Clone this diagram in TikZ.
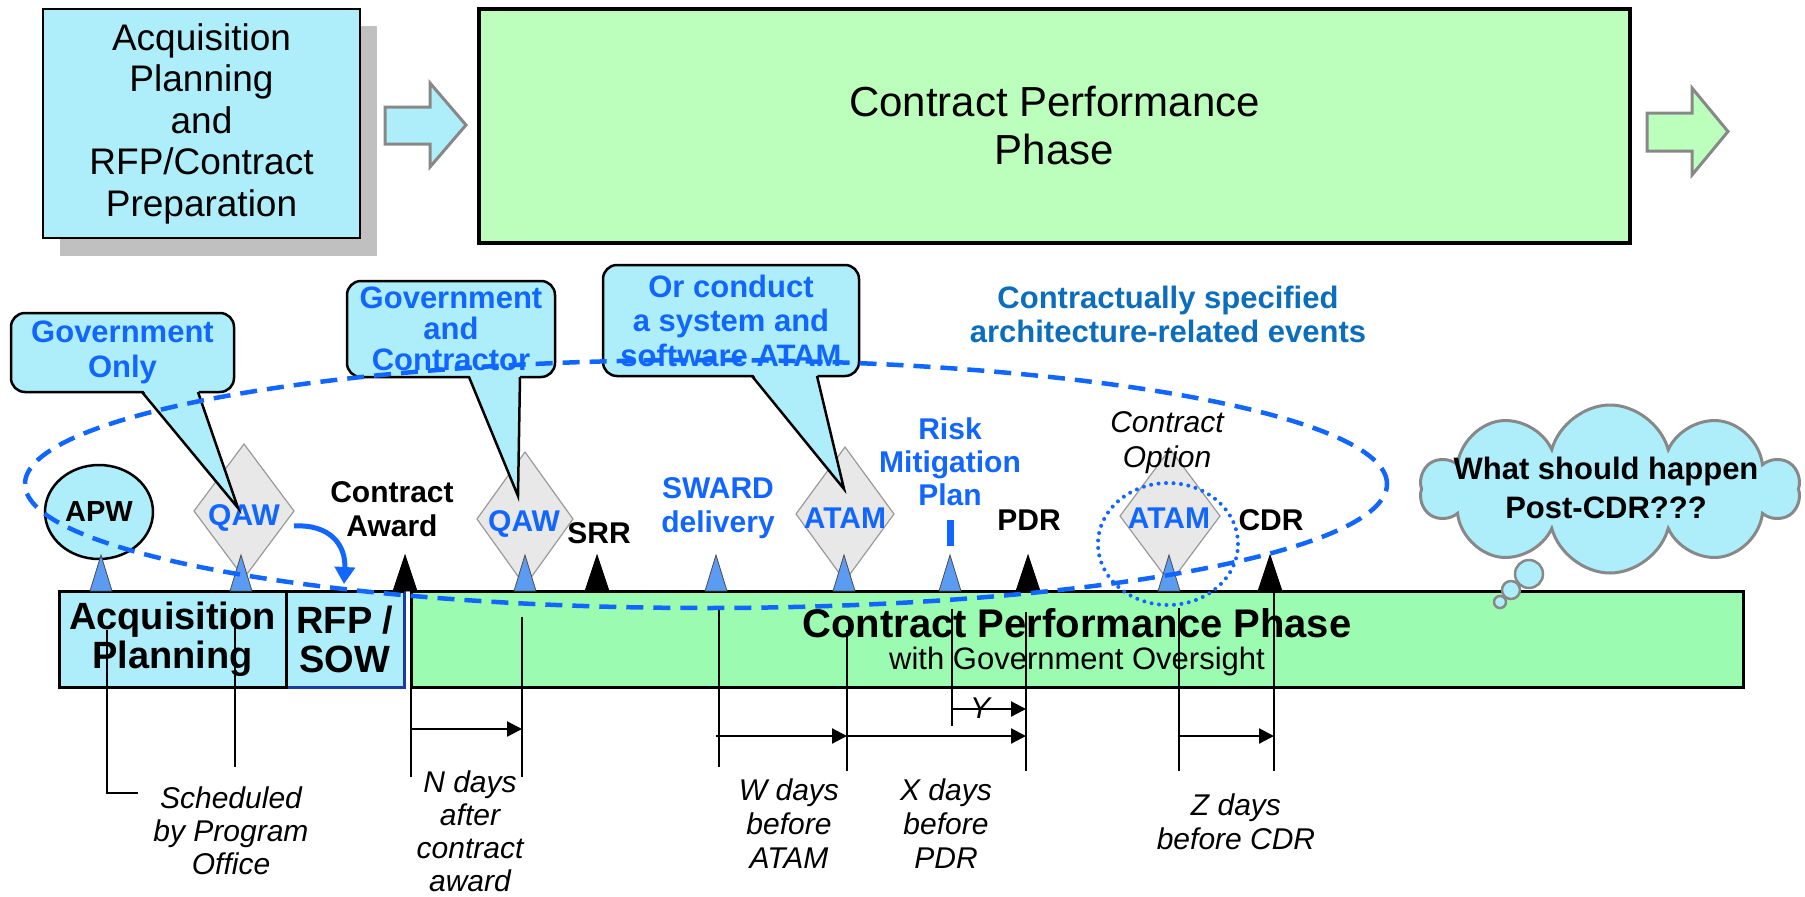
\documentclass[tikz,border=0pt]{standalone}
\usepackage{fontspec}
\setmainfont{Liberation Sans}
\usetikzlibrary{shapes.geometric,shapes.symbols,arrows.meta}
\definecolor{tblue}{HTML}{1166FF}
\definecolor{cyanfill}{HTML}{AEEEFA}
\definecolor{topgreen}{HTML}{BCFFBC}
\definecolor{bargreen}{HTML}{9BFBB0}
\definecolor{dmdfill}{HTML}{E8E8E8}
\definecolor{dmdline}{HTML}{9A9A9A}
\definecolor{triblue}{HTML}{5B9CF2}
\definecolor{ctblue}{HTML}{0B6DBD}
\definecolor{rfpblue}{HTML}{1B3C9C}
\definecolor{arrgray}{HTML}{888888}
\definecolor{shadowgray}{HTML}{C0C0C0}
\newcommand\fnt[2]{\fontsize{#1}{#2}\selectfont}
\begin{document}
\begin{tikzpicture}[x=1pt,y=-1pt,
  every node/.style={inner sep=0pt,outer sep=0pt,align=center},
  barbox/.style={draw=black,line width=3pt,minimum height=96pt,font=\fnt{38}{39}\bfseries},
  ev/.style={font=\fnt{30}{34}\bfseries},
  evb/.style={ev,text=tblue},
  note/.style={font=\fnt{30}{33}\itshape},
  ann/.style={line width=1.8pt},
  dimarr/.style={line width=2.2pt,-{Triangle[length=15pt,width=15pt]}},
  dmd/.style={diamond,draw=dmdline,fill=dmdfill,line width=1.2pt,minimum height=134pt},
  callbox/.style={draw=black,line width=2.5pt,fill=cyanfill,rounded corners=14pt,font=\fnt{31}{35}\bfseries,text=tblue},
  callline/.style={draw=black,line width=2.5pt,line join=miter},
  blockarrow/.style={draw=arrgray,line width=3pt,line join=miter},
  bub/.style={draw=arrgray,line width=2.5pt,fill=cyanfill}
]
\useasboundingbox (0,0) rectangle (1805,897);

% ---------- top row ----------
\fill[shadowgray] (60,26) rectangle (377,256);
\node[draw=black,line width=2.5pt,fill=cyanfill,minimum width=317pt,minimum height=229pt,font=\fnt{37}{41.5}] (aptop) at (201.5,123.5)
  {Acquisition\\Planning\\and\\RFP/Contract\\Preparation};
\draw[blockarrow,fill=cyanfill] (385,107) -- (430,107) -- (430,83) -- (466,125) -- (430,167) -- (430,144) -- (385,144) -- cycle;
\node[draw=black,line width=4pt,fill=topgreen,minimum width=1151pt,minimum height=234pt,font=\fnt{42}{48}] (cptop) at (1054.5,126)
  {Contract Performance\\Phase};
\draw[blockarrow,fill=topgreen] (1647,113) -- (1692,113) -- (1692,88) -- (1728,131.5) -- (1692,175) -- (1692,151) -- (1647,151) -- cycle;

% ---------- timeline bar ----------
\node[barbox,draw=rfpblue,fill=cyanfill,minimum width=118pt] (rfp) at (345,639) {RFP /\\SOW};
\node[barbox,fill=cyanfill,minimum width=227pt] (acq) at (172.5,639) {Acquisition\\Planning};
\draw[line width=3pt] (acq.north east) -- (rfp.north east);
\node[barbox,fill=bargreen,minimum width=1332pt] (cpp) at (1077,639) {};
\node[font=\fnt{40}{44}\bfseries] (cpptitle) at (1077,623) {Contract Performance Phase};
\node[font=\fnt{31}{34}] (cppsub) at (1077,661) {with Government Oversight};

% ---------- annotation lines ----------
\draw[ann] (107,630) -- (107,793) -- (138,793);
\draw[ann] (235,608) -- (235,767);
\draw[ann] (411,591) -- (411,777);
\draw[ann] (522,617) -- (522,777);
\draw[ann] (719,608) -- (719,767);
\draw[ann] (847,630) -- (847,771);
\draw[ann] (952,609) -- (952,726);
\draw[ann] (1026,612) -- (1026,771);
\draw[ann] (1179,608) -- (1179,771);
\draw[ann] (1274,593) -- (1274,771);
\draw[dimarr] (411,729) -- (522,729);
\draw[dimarr] (716,736) -- (847,736);
\draw[dimarr] (847,736) -- (1026,736);
\draw[dimarr] (952,709) -- (1026,709);
\draw[dimarr] (1179,736) -- (1274,736);

\node[note] (sched) at (231,831) {Scheduled\\by Program\\Office};
\node[note,font=\fnt{30}{33}\itshape] (ndays) at (470,831) {N days\\after\\contract\\award};
\node[note,font=\fnt{30}{34}\itshape] (wdays) at (789,824) {W days\\before\\ATAM};
\node[note,font=\fnt{30}{34}\itshape] (xdays) at (946,824) {X days\\before\\PDR};
\node[note,font=\fnt{30}{34}\itshape] (zdays) at (1236,822) {Z days\\before CDR};
\node[note] (ylbl) at (980,708) {Y};

% ---------- events ----------
\node[draw=black,line width=2.5pt,fill=cyanfill,ellipse,minimum width=108pt,minimum height=94pt,font=\fnt{29}{33}\bfseries] (apw) at (99,512) {APW};
\node[dmd,minimum width=100pt] (qaw1) at (244,511) {};
\node[dmd,minimum width=96pt] (qaw2) at (525,519) {};
\node[dmd,minimum width=98pt] (atam1) at (845,514) {};
\node[dmd,minimum width=100pt] (atam2) at (1170,516) {};
\node[evb] (qaw1l) at (244,518) {QAW};
\node[evb] (qaw2l) at (524,524) {QAW};
\node[evb] (atam1l) at (845,518) {ATAM};
\node[evb] (atam2l) at (1169,518) {ATAM};

\node[ev] (caw) at (392,509) {Contract\\Award};
\node[ev] (srr) at (599,533) {SRR};
\node[evb] (sward) at (718,508) {SWARD\\delivery};
\node[evb,font=\fnt{30}{33}\bfseries] (risk) at (950,462) {Risk\\Mitigation\\Plan};
\draw[tblue,line width=7pt] (950,520) -- (950,546);
\node[ev] (pdr) at (1029,520) {PDR};
\node[note,font=\fnt{30}{35}\itshape] (copt) at (1167,443) {Contract\\Option};
\node[ev] (cdr) at (1271,520) {CDR};

\foreach \x in {101,241,525,716,844,950,1169}
  \filldraw[fill=triblue,draw=black!70,line width=0.8pt] (\x-11,591) -- (\x,555) -- (\x+11,591) -- cycle;
\foreach \x in {405,597,1028,1270}
  \filldraw[fill=black,draw=black,line width=0.8pt] (\x-12,591) -- (\x,555) -- (\x+12,591) -- cycle;

% ---------- callouts ----------
\node[callbox,minimum width=223pt,minimum height=79pt] (co1) at (122.5,352.5) {Government\\Only};
\fill[cyanfill] (142,389) -- (238,508) -- (198,389) -- cycle;
\draw[callline] (142,392) -- (238,508) -- (198,392);

\node[callbox,minimum width=208pt,minimum height=96pt,font=\fnt{31}{31}\bfseries] (co2) at (451,329) {Government\\and\\Contractor};
\fill[cyanfill] (469,374) -- (518,496) -- (520,374) -- cycle;
\draw[callline] (469,377) -- (518,496) -- (520,377);

\node[callbox,minimum width=256pt,minimum height=111pt,font=\fnt{31}{34.5}\bfseries] (co3) at (731,320.5) {Or conduct\\a system and\\software ATAM};
\fill[cyanfill] (752,373) -- (844,489) -- (817,373) -- cycle;
\draw[callline] (752,376) -- (844,489) -- (817,376);

\node[font=\fnt{31}{34}\bfseries,text=ctblue] (cse) at (1168,314) {Contractually specified\\architecture-related events};

% ---------- dashed grouping ellipse and highlights ----------
\draw[tblue,line width=4.5pt,dash pattern=on 17pt off 10pt] (706,484) ellipse [x radius=681pt, y radius=124pt];
\draw[tblue,line width=4pt,line cap=round,dash pattern=on 0pt off 7.5pt] (1168,544) ellipse [x radius=70pt, y radius=61pt];
\coordinate (cstart) at (294,526);
\coordinate (cend) at (344,584);
\draw[tblue,line width=5pt,-{Triangle[length=17pt,width=20pt]}] (cstart) .. controls (330,524) and (346,545) .. (cend);

% ---------- cloud ----------
\node[cloud,cloud puffs=10,aspect=2.3,draw=arrgray,line width=3pt,fill=cyanfill,minimum width=378pt,minimum height=168pt] (cloud) at (1610,489) {};
\node[font=\fnt{31}{39}\bfseries] (cloudtxt) at (1606,488) {What should happen\\Post-CDR???};
\draw[bub] (1529,574) circle [radius=14pt];
\draw[bub] (1511,590) circle [radius=9pt];
\draw[bub] (1500,602) circle [radius=6pt];
\end{tikzpicture}
\end{document}
